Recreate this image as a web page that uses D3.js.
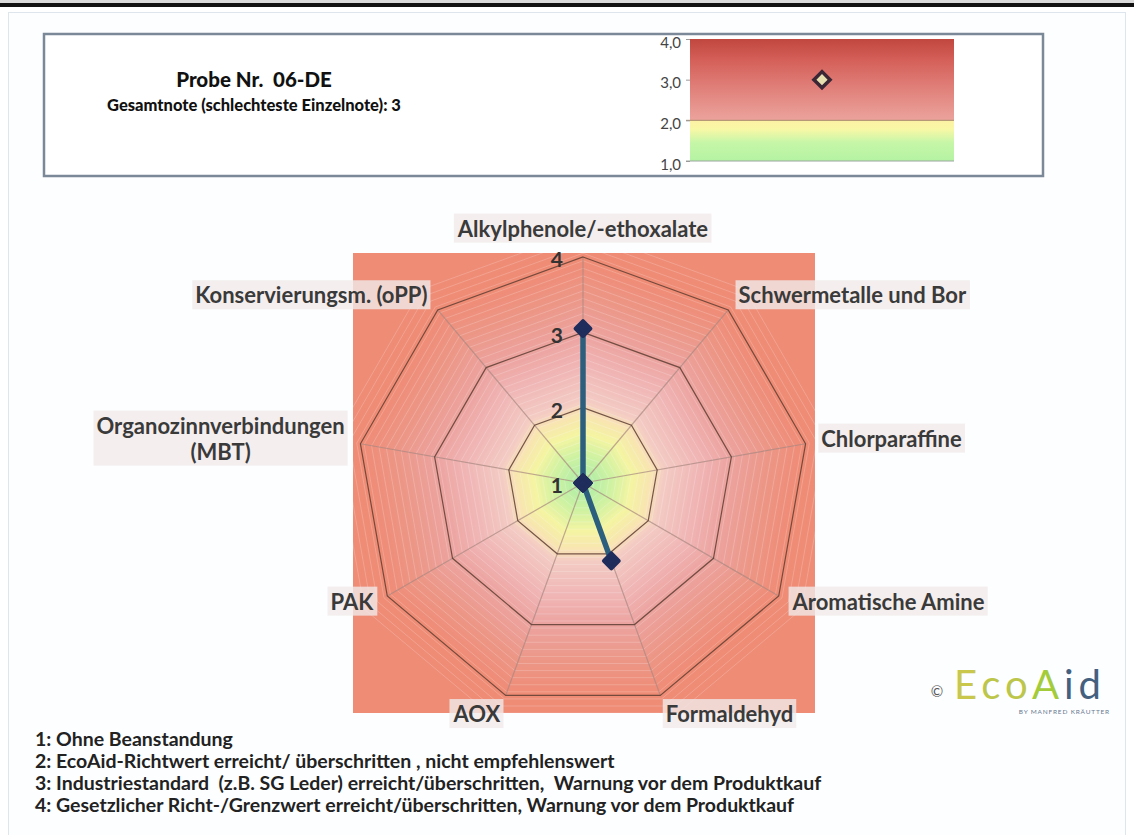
<!DOCTYPE html>
<html><head><meta charset="utf-8">
<script src="https://d3js.org/d3.v7.min.js"></script>
<style>
html,body{margin:0;padding:0;background:#fff;}
svg{display:block;}
text{font-family:Lato,"Open Sans",sans-serif;}
</style></head>
<body>
<script>
// ---------- data ----------
const categories = ["Alkylphenole/-ethoxalate","Schwermetalle und Bor","Chlorparaffine","Aromatische Amine","Formaldehyd","AOX","PAK","Organozinnverbindungen (MBT)","Konservierungsm. (oPP)"];
const values = [3.05, 1, 1, 1, 2.1, 1, 1, 1, 1];
const radialTicks = [1, 2, 3, 4];
const gaugeTicks = [1, 2, 3, 4];
const gaugeCategory = ["Gesamtnote"];
const gaugeValues = [3];
const titleLines = ["Probe Nr.  06-DE", "Gesamtnote (schlechteste Einzelnote): 3"];
const legendLines = [
  "1: Ohne Beanstandung",
  "2: EcoAid-Richtwert erreicht/ überschritten , nicht empfehlenswert",
  "3: Industriestandard  (z.B. SG Leder) erreicht/überschritten,  Warnung vor dem Produktkauf",
  "4: Gesetzlicher Richt-/Grenzwert erreicht/überschritten, Warnung vor dem Produktkauf"
];

// ---------- canvas ----------
const W = 1134, H = 835;
const svg = d3.select("body").append("svg").attr("width", W).attr("height", H);
const defs = svg.append("defs");

// top bar of the screenshot
svg.append("rect").attr("x",0).attr("y",0).attr("width",W).attr("height",3).attr("fill","#d9d9d9");
svg.append("rect").attr("x",0).attr("y",3).attr("width",W).attr("height",4).attr("fill","#111");
// faint outer frame
svg.append("rect").attr("x",8.5).attr("y",12.5).attr("width",1117).attr("height",830)
  .attr("fill","#fdfeff").attr("stroke","#dfe5ec").attr("stroke-width",1);

// ---------- header box ----------
svg.append("rect").attr("x",44).attr("y",34).attr("width",999).attr("height",142)
  .attr("fill","#fff").attr("stroke","#7b8898").attr("stroke-width",2.5);
svg.append("text").attr("x",254).attr("y",87).attr("text-anchor","middle").attr("xml:space","preserve")
  .attr("font-size",20.5).attr("font-weight",900).attr("fill","#111").text(titleLines[0]);
svg.append("text").attr("x",254).attr("y",111).attr("text-anchor","middle")
  .attr("font-size",16.5).attr("font-weight",900).attr("fill","#111").text(titleLines[1]);

// ---------- gauge ----------
const gx0 = 690, gx1 = 954;
const gy = d3.scaleLinear().domain([1,4]).range([161,39]);
const gx = d3.scalePoint().domain(gaugeCategory).range([gx0, gx1]).padding(0.5);
const redG = defs.append("linearGradient").attr("id","gRed").attr("x1",0).attr("y1",0).attr("x2",0).attr("y2",1);
[["0%","#c0473f"],["25%","#d45f58"],["65%","#e2847e"],["100%","#eba39c"]].forEach(s=>redG.append("stop").attr("offset",s[0]).attr("stop-color",s[1]));
const grnG = defs.append("linearGradient").attr("id","gGrn").attr("x1",0).attr("y1",0).attr("x2",0).attr("y2",1);
[["0%","#fdf1a4"],["22%","#f8f8a6"],["55%","#c6f6a8"],["100%","#b4f3a2"]].forEach(s=>grnG.append("stop").attr("offset",s[0]).attr("stop-color",s[1]));
svg.append("rect").attr("x",gx0).attr("y",gy(4)).attr("width",gx1-gx0).attr("height",gy(2)-gy(4)).attr("fill","url(#gRed)");
svg.append("rect").attr("x",gx0).attr("y",gy(2)).attr("width",gx1-gx0).attr("height",gy(1)-gy(2)).attr("fill","url(#gGrn)");
svg.append("line").attr("x1",gx0-4).attr("x2",gx1).attr("y1",gy(2)).attr("y2",gy(2)).attr("stroke","#a88a6a").attr("stroke-width",1);
svg.append("line").attr("x1",gx0-4).attr("x2",gx1).attr("y1",gy(1)).attr("y2",gy(1)).attr("stroke","#9aa8a0").attr("stroke-width",1);
const gAxis = svg.append("g").attr("transform",`translate(${gx0},0)`)
  .call(d3.axisLeft(gy).tickValues(gaugeTicks).tickSize(4).tickFormat(d=>d3.format(".1f")(d).replace(".",",")));
gAxis.select(".domain").remove();
gAxis.selectAll("line").attr("stroke","#9a9a9a");
gAxis.selectAll("text").attr("font-size",15).attr("fill","#444").attr("font-family","Lato,sans-serif").attr("dx",-2).attr("dy","0.55em");
svg.selectAll(".gmark").data(gaugeValues).join("path").attr("class","gmark")
  .attr("d", d3.symbol().type(d3.symbolSquare).size(130))
  .attr("transform", d=>`translate(${gx(gaugeCategory[0])},${gy(d)}) rotate(45)`)
  .attr("fill","#e6dfb0").attr("stroke","#3a2634").attr("stroke-width",3.5);

// ---------- radar ----------
const cx = 583, cy = 483, R = 226;
const r = d3.scaleLinear().domain([1,4]).range([0,R]);
const n = categories.length;
const ang = i => i * 2 * Math.PI / n;
const pt = (i, v) => [cx + r(v) * Math.sin(ang(i)), cy - r(v) * Math.cos(ang(i))];
const ring = v => d3.range(n).map(i => pt(i, v));
const lineClosed = d3.line().curve(d3.curveLinearClosed);

const sq = {x:353, y:253, w:462, h:460};
defs.append("clipPath").attr("id","sqClip").append("rect").attr("x",sq.x).attr("y",sq.y).attr("width",sq.w).attr("height",sq.h);
svg.append("rect").attr("x",sq.x).attr("y",sq.y).attr("width",sq.w).attr("height",sq.h).attr("fill","#ef8c76");

const bandColor = d3.scaleLinear()
  .domain([1, 1.4, 1.7, 1.96, 2.12, 2.6, 3.0, 3.5, 4])
  .range(["#a6eaa8","#cdf2a2","#f4f4a2","#f8e4b2","#f3ccc4","#f0b6b6","#eca4a0","#ec9788","#ef8c76"])
  .clamp(true);
const bandG = svg.append("g").attr("clip-path","url(#sqClip)");
const bandLevels = d3.range(4.35, 1.0, -0.05);
bandG.selectAll("path.band").data(bandLevels).join("path").attr("class","band")
  .attr("d", v => lineClosed(ring(v)))
  .attr("fill", v => bandColor(v))
  .attr("stroke", (v,i) => i % 2 === 0 ? "rgba(255,255,255,0.2)" : "none")
  .attr("stroke-width", 1);

// spokes
svg.selectAll("line.spoke").data(categories).join("line").attr("class","spoke")
  .attr("x1", cx).attr("y1", cy)
  .attr("x2", (d,i) => pt(i,4)[0]).attr("y2", (d,i) => pt(i,4)[1])
  .attr("stroke","#a88880").attr("stroke-opacity",0.7).attr("stroke-width",1.2);
// grid rings
svg.selectAll("path.grid").data(radialTicks.filter(t => t > 1)).join("path").attr("class","grid")
  .attr("d", v => lineClosed(ring(v)))
  .attr("fill","none").attr("stroke","#5e3e32").attr("stroke-opacity",0.85).attr("stroke-width",1.2);
// tick labels
svg.selectAll("text.rtick").data(radialTicks).join("text").attr("class","rtick")
  .attr("x", cx - 20).attr("y", d => cy - r(d) + 5)
  .attr("text-anchor","end").attr("dominant-baseline","middle")
  .attr("font-size",21).attr("font-weight",700).attr("fill","#333").text(d => d);

// series
const seriesPts = values.map((v,i) => pt(i, v));
svg.append("path").attr("d", lineClosed(seriesPts))
  .attr("fill","none").attr("stroke","#2c5f7e").attr("stroke-width",5.5).attr("stroke-linejoin","miter");
svg.selectAll("path.mark").data(seriesPts).join("path").attr("class","mark")
  .attr("d", d3.symbol().type(d3.symbolSquare).size(110))
  .attr("transform", d => `translate(${d[0]},${d[1]}) rotate(45)`)
  .attr("fill","#1f2d5c").attr("stroke","#1f2d5c").attr("stroke-width",4).attr("stroke-linejoin","round");

// category labels
const labG = svg.append("g");
categories.forEach((c, i) => {
  const a = ang(i), s = Math.sin(a), co = Math.cos(a);
  let x = cx + (R + 16) * s, y = cy - (R + 16) * co;
  if (co > 0.9) y -= 10;
  if (co < -0.9) y += 6;
  const anchor = s > 0.1 ? "start" : (s < -0.1 ? "end" : "middle");
  const g = labG.append("g");
  const t = g.append("text").attr("font-size",22).attr("font-weight",700).attr("fill","#3a3a3a")
    .attr("dominant-baseline","middle");
  t.text(c);
  let w = t.node().getComputedTextLength();
  if (w > 280) {
    const k = c.lastIndexOf(" ");
    const parts = [c.slice(0,k), c.slice(k+1)];
    t.text(null);
    const tmp = g.append("text").attr("font-size",22).attr("font-weight",700).text(parts[0]);
    const bw = tmp.node().getComputedTextLength(); tmp.remove();
    const mx = anchor === "end" ? x - bw/2 : (anchor === "start" ? x + bw/2 : x);
    parts.forEach((p, j) => t.append("tspan").attr("x", mx).attr("y", y - 13 + j*26).text(p));
    t.attr("text-anchor","middle");
  } else {
    t.attr("x", x).attr("y", y).attr("text-anchor", anchor);
  }
  const bb = t.node().getBBox();
  g.insert("rect","text").attr("x",bb.x-3).attr("y",bb.y-1).attr("width",bb.width+6).attr("height",bb.height+2)
    .attr("fill","#f1eaea").attr("fill-opacity",0.8);
});

// ---------- legend ----------
svg.selectAll("text.leg").data(legendLines).join("text").attr("class","leg")
  .attr("x",35).attr("y",(d,i)=>746 + i*22)
  .attr("font-size",19.5).attr("font-weight",700).attr("fill","#222")
  .attr("xml:space","preserve").text(d=>d);

// ---------- logo ----------
svg.append("text").attr("x",937).attr("y",697).attr("text-anchor","middle").attr("font-size",15).attr("fill","#555").text("©");
const logo = svg.append("text").attr("x",954).attr("y",699).attr("font-size",40).attr("letter-spacing",5).attr("font-family","Lato,sans-serif").attr("font-weight",400);
[["E","#c9c84c"],["co","#bcc64a"],["A","#a4cc3a"],["id","#44607f"]].forEach(p=>logo.append("tspan").attr("fill",p[1]).text(p[0]));
svg.append("text").attr("x",1110).attr("y",714).attr("text-anchor","end").attr("font-size",6.5).attr("letter-spacing",0.8)
  .attr("fill","#6a7a90").text("BY MANFRED KRÄUTTER");
</script>
</body></html>
